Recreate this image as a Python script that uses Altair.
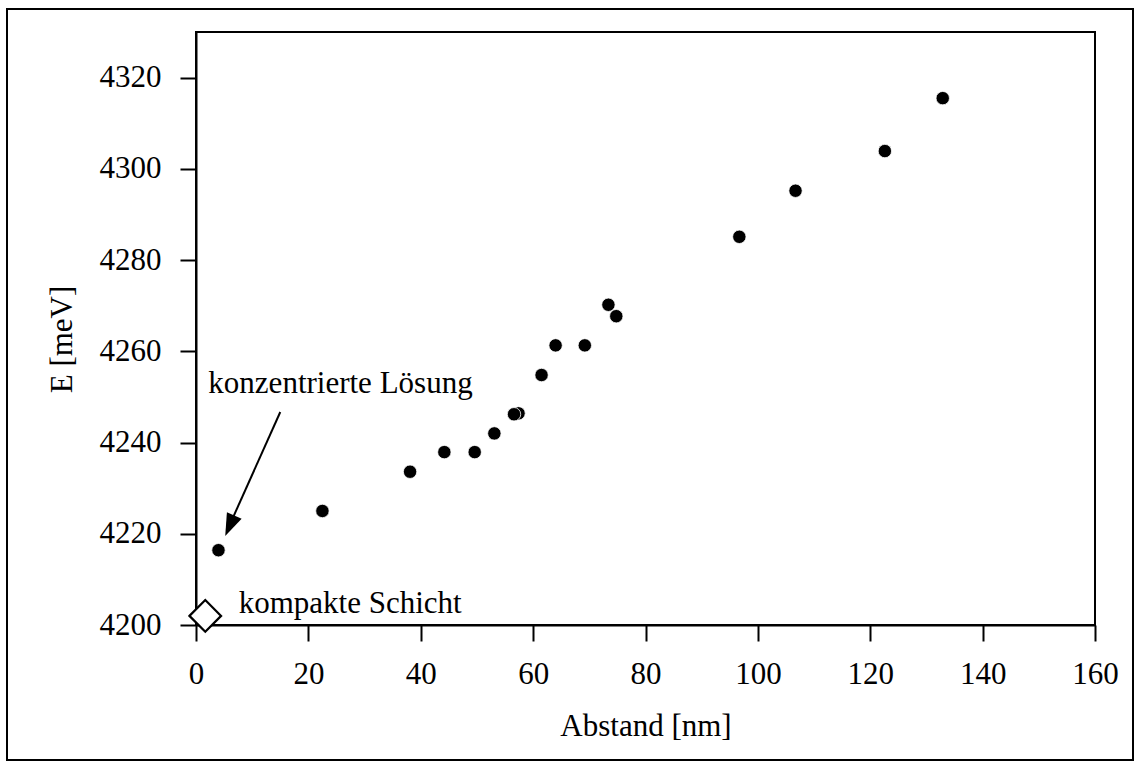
import altair as alt
import pandas as pd

# measured data (Abstand [nm], E [meV])
abstand = [4.0, 22.5, 38.1, 44.2, 49.6, 53.1, 57.4, 56.6, 61.5, 64.0, 69.2, 73.4, 74.8, 96.7, 106.7, 122.6, 132.9]
energie = [4216.4, 4225.0, 4233.6, 4237.9, 4237.9, 4242.0, 4246.4, 4246.2, 4254.8, 4261.3, 4261.3, 4270.2, 4267.7, 4285.1, 4295.2, 4303.9, 4315.5]

# compact layer point
kompakt_x = [1.65]
kompakt_y = [4202.0]

# annotations
label_texts = ["konzentrierte Lösung", "kompakte Schicht"]
label_x = [2.2, 7.6]
label_y = [4250.9, 4202.6]

# arrow (tail -> tip)
arrow_tail = [15.0, 4246.7]
arrow_shaft_end = [6.2, 4222.5]
arrow_tip = [5.2, 4219.5]

x_ticks = [0, 20, 40, 60, 80, 100, 120, 140, 160]
y_ticks = [4200, 4220, 4240, 4260, 4280, 4300, 4320]

FONT = "Liberation Serif"
FS = 31

df = pd.DataFrame({"x": abstand, "y": energie, "order": list(range(len(abstand)))})
df_k = pd.DataFrame({"x": kompakt_x, "y": kompakt_y})
df_t = pd.DataFrame({"x": label_x, "y": label_y, "t": label_texts})
df_a = pd.DataFrame({"x": [arrow_tail[0]], "y": [arrow_tail[1]],
                     "x2": [arrow_shaft_end[0]], "y2": [arrow_shaft_end[1]]})
df_h = pd.DataFrame({"x": [arrow_tip[0]], "y": [arrow_tip[1]]})

xscale = alt.Scale(domain=[0, 160], nice=False, zero=False)
yscale = alt.Scale(domain=[4200, 4330], nice=False, zero=False)

xaxis = alt.Axis(values=x_ticks, title="Abstand [nm]", labelFlush=False, labelPadding=18,
                 titleBaseline="alphabetic", titleY=110, format="d")
yaxis = alt.Axis(values=y_ticks, title="E [meV]", labelPadding=19,
                 titleBaseline="alphabetic", titleX=-125, titleY=307, format="d")

points = alt.Chart(df).mark_circle(size=180, color="black", opacity=1, stroke="white", strokeWidth=0.8).encode(
    x=alt.X("x:Q", scale=xscale, axis=xaxis),
    y=alt.Y("y:Q", scale=yscale, axis=yaxis),
    order="order:Q",
)

diamond = alt.Chart(df_k).mark_point(shape="diamond", size=1000, filled=True, fill="white",
                                      stroke="black", strokeWidth=2.2, opacity=1).encode(
    x=alt.X("x:Q", scale=xscale), y=alt.Y("y:Q", scale=yscale)
)

texts = alt.Chart(df_t).mark_text(align="left", baseline="alphabetic", font=FONT,
                                   fontSize=FS, color="black").encode(
    x=alt.X("x:Q", scale=xscale), y=alt.Y("y:Q", scale=yscale), text="t:N"
)

shaft = alt.Chart(df_a).mark_rule(color="black", strokeWidth=2).encode(
    x=alt.X("x:Q", scale=xscale), y=alt.Y("y:Q", scale=yscale), x2="x2:Q", y2="y2:Q"
)

head = alt.Chart(df_h).mark_point(shape="M0,0L-0.36,1L0.36,1Z", size=2000, filled=True,
                                   color="black", opacity=1, angle=203.9).encode(
    x=alt.X("x:Q", scale=xscale), y=alt.Y("y:Q", scale=yscale)
)

frame = alt.Chart(pd.DataFrame({"a": [0]})).mark_rect(fill="transparent", stroke="black",
                                                       strokeWidth=2).encode(
    x=alt.value(-189), x2=alt.value(937), y=alt.value(-23), y2=alt.value(728)
)

chart = alt.layer(frame, shaft, head, diamond, points, texts).properties(
    width=899, height=593,
    padding={"left": 196, "top": 32, "right": 43, "bottom": 140},
    autosize=alt.AutoSizeParams(type="none"),
    background="white",
).configure_view(
    stroke="black", strokeWidth=2
).configure_axis(
    grid=False,
    labelFont=FONT, labelFontSize=FS, labelColor="black",
    titleFont=FONT, titleFontSize=FS, titleFontWeight="normal", titleColor="black",
    domainColor="black", domainWidth=2,
    tickColor="black", tickWidth=2, tickSize=16,
    labelOverlap=False,
)

chart.save("out.html", embed_options={"renderer": "svg", "actions": False})
